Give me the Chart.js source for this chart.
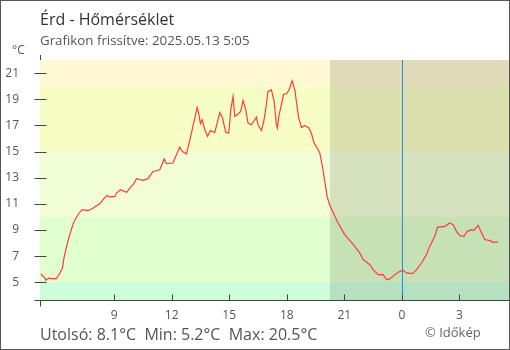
<!DOCTYPE html>
<html><head><meta charset="utf-8">
<script src="https://cdn.jsdelivr.net/npm/chart.js@4/dist/chart.umd.min.js"></script>
<style>html,body{margin:0;padding:0;background:#fff}canvas{display:block}</style>
</head><body>
<canvas id="c" width="510" height="350"></canvas>
<script>
// ---- data ----
const hours = [5.18,5.39,5.44,5.60,5.70,6.00,6.13,6.31,6.39,6.52,6.64,6.78,6.92,7.12,7.33,7.65,7.91,8.25,8.52,8.64,8.78,9.04,9.13,9.33,9.65,9.82,10.03,10.17,10.51,10.77,11.03,11.38,11.61,11.73,12.07,12.25,12.42,12.56,12.77,12.91,13.03,13.17,13.33,13.43,13.50,13.59,13.73,13.87,14.02,14.25,14.37,14.51,14.65,14.82,14.98,15.08,15.20,15.29,15.41,15.60,15.72,15.86,15.98,16.16,16.33,16.42,16.50,16.68,16.80,16.91,17.02,17.20,17.34,17.46,17.51,17.58,17.72,17.84,17.98,18.12,18.28,18.42,18.50,18.62,18.77,18.94,19.15,19.29,19.42,19.58,19.72,19.84,19.98,20.10,20.24,20.41,20.67,21.02,21.28,21.54,21.80,21.98,22.33,22.50,22.76,23.02,23.20,23.37,23.63,23.89,24.06,24.24,24.55,24.76,25.02,25.28,25.45,25.71,25.85,26.23,26.49,26.67,26.84,27.02,27.23,27.40,27.62,27.76,27.97,28.11,28.32,28.58,28.75,29.01];
const temps = [5.64,5.34,5.16,5.34,5.29,5.29,5.6,6.1,6.87,7.71,8.4,9.08,9.66,10.17,10.56,10.48,10.69,11.0,11.5,11.65,11.53,11.57,11.83,12.08,11.88,12.21,12.54,12.93,12.8,12.93,13.48,13.61,14.43,14.07,14.12,14.76,15.35,15.0,14.83,15.65,16.42,17.3,18.37,17.74,17.13,17.43,16.67,16.16,16.6,16.46,17.18,17.99,17.56,16.46,16.42,18.2,19.21,17.68,17.81,18.07,18.91,18.2,17.18,17.05,17.43,17.64,17.05,16.61,17.3,18.33,19.59,19.72,18.83,17.05,16.8,17.68,18.58,19.4,19.4,19.72,20.41,19.72,18.83,17.56,16.84,17.0,16.8,16.36,15.65,15.27,14.89,13.99,12.72,11.57,10.9,10.35,9.54,8.65,8.21,7.75,7.25,6.74,6.35,5.97,5.59,5.59,5.21,5.26,5.59,5.84,5.92,5.72,5.67,5.97,6.48,7.12,7.75,8.52,9.2,9.28,9.54,9.41,8.9,8.57,8.52,8.9,9.03,8.97,9.36,8.9,8.27,8.19,8.06,8.09];
const xTickHours = [9,12,15,18,21,24,27];
const yTickValues = [5,7,9,11,13,15,17,19,21];
const bandLimits = [-50,5,10,15,20,50];
const nightStart = 20.25;
const midnight = 24;
const titleText = 'Érd - Hőmérséklet';
const subtitleText = 'Grafikon frissítve: 2025.05.13 5:05';
const unitText = '°C';
const summaryText = 'Utolsó: 8.1°C  Min: 5.2°C  Max: 20.5°C';
const creditText = '© Időkép';

// ---- styles ----
const bandColors = ['#cdfed9','#e1fecf','#f2fed6','#f6fec6','#fff8d2'];
const FONT = '"Open Sans", "Noto Sans", sans-serif';

const deco = {
  id: 'deco',
  beforeDraw(chart) {
    const ctx = chart.ctx;
    ctx.save(); ctx.fillStyle = '#fff'; ctx.fillRect(0,0,chart.width,chart.height); ctx.restore();
  },
  beforeDatasetsDraw(chart) {
    const {ctx, chartArea: a, scales: {x, y}} = chart;
    ctx.save();
    ctx.beginPath(); ctx.rect(a.left, a.top, a.right - a.left, a.bottom - a.top); ctx.clip();
    for (let i = 0; i < bandColors.length; i++) {
      const y1 = y.getPixelForValue(bandLimits[i+1]);
      const y2 = y.getPixelForValue(bandLimits[i]);
      ctx.fillStyle = bandColors[i];
      ctx.fillRect(a.left, y1, a.right - a.left, y2 - y1);
    }
    const nx = Math.round(x.getPixelForValue(nightStart));
    ctx.fillStyle = 'rgba(0,0,0,0.115)';
    ctx.fillRect(nx, a.top, a.right - nx, a.bottom - a.top);
    const mx = Math.round(x.getPixelForValue(midnight)) + 0.5;
    ctx.strokeStyle = '#1f8fe0'; ctx.lineWidth = 1;
    ctx.beginPath(); ctx.moveTo(mx, a.top); ctx.lineTo(mx, a.bottom); ctx.stroke();
    ctx.restore();
  },
  afterDraw(chart) {
    const {ctx, chartArea: a, scales: {x, y}} = chart;
    ctx.save();
    ctx.strokeStyle = '#444'; ctx.lineWidth = 1;
    const by = Math.round(a.bottom) + 0.5;
    const lx = Math.round(a.left) + 0.5;
    ctx.beginPath();
    ctx.moveTo(lx - 6, by); ctx.lineTo(chart.width, by);
    ctx.moveTo(lx, by); ctx.lineTo(lx, by + 6);
    ctx.moveTo(lx, a.top - 5); ctx.lineTo(lx, a.top);
    xTickHours.forEach(h => { const px = Math.round(x.getPixelForValue(h)) + 0.5; ctx.moveTo(px, by - 6); ctx.lineTo(px, by); });
    yTickValues.forEach(v => { const py = Math.round(y.getPixelForValue(v)) + 0.5; ctx.moveTo(lx - 6, py); ctx.lineTo(lx + 6, py); });
    ctx.stroke();
    ctx.textBaseline = 'alphabetic'; ctx.textAlign = 'left';
    ctx.fillStyle = '#333'; ctx.font = '16px ' + FONT;
    ctx.fillText(titleText, 40, 25);
    ctx.fillStyle = '#555'; ctx.font = '13.3px ' + FONT;
    ctx.fillText(subtitleText, 40, 45);
    ctx.font = '12px ' + FONT;
    ctx.fillText(unitText, 12, 54);
    ctx.font = '16px ' + FONT;
    ctx.fillText(summaryText, 40, 340);
    ctx.fillStyle = '#666'; ctx.font = '13px ' + FONT;
    ctx.fillText(creditText, 425, 337);
    ctx.strokeStyle = '#555';
    ctx.strokeRect(0.5, 0.5, chart.width - 1, chart.height - 1);
    ctx.restore();
  }
};

new Chart(document.getElementById('c'), {
  type: 'line',
  data: {
    datasets: [{
      data: hours.map((h, i) => ({x: h, y: temps[i]})),
      borderColor: '#ff3b3b', borderWidth: 1.2, pointRadius: 0, tension: 0, fill: false
    }]
  },
  options: {
    responsive: false, devicePixelRatio: 1, animation: false,
    layout: {padding: {top: 60, right: 1, left: 0, bottom: 0}},
    plugins: {legend: {display: false}, tooltip: {enabled: false}, title: {display: false}},
    scales: {
      x: {
        type: 'linear', min: 5.14, max: 29.58,
        afterFit(s) { s.height = 50; },
        afterBuildTicks(s) { s.ticks = xTickHours.map(v => ({value: v})); },
        ticks: {callback: v => String(v % 24), font: {family: FONT, size: 12}, color: '#555', padding: 8, maxRotation: 0, autoSkip: false},
        grid: {display: false, drawTicks: false},
        border: {display: false}
      },
      y: {
        min: 3.65, max: 22,
        afterFit(s) { s.width = 40; },
        afterBuildTicks(s) { s.ticks = yTickValues.map(v => ({value: v})); },
        ticks: {font: {family: FONT, size: 12}, color: '#555', padding: 21, autoSkip: false},
        grid: {display: false, drawTicks: false},
        border: {display: false}
      }
    }
  },
  plugins: [deco]
});
</script>
</body></html>
